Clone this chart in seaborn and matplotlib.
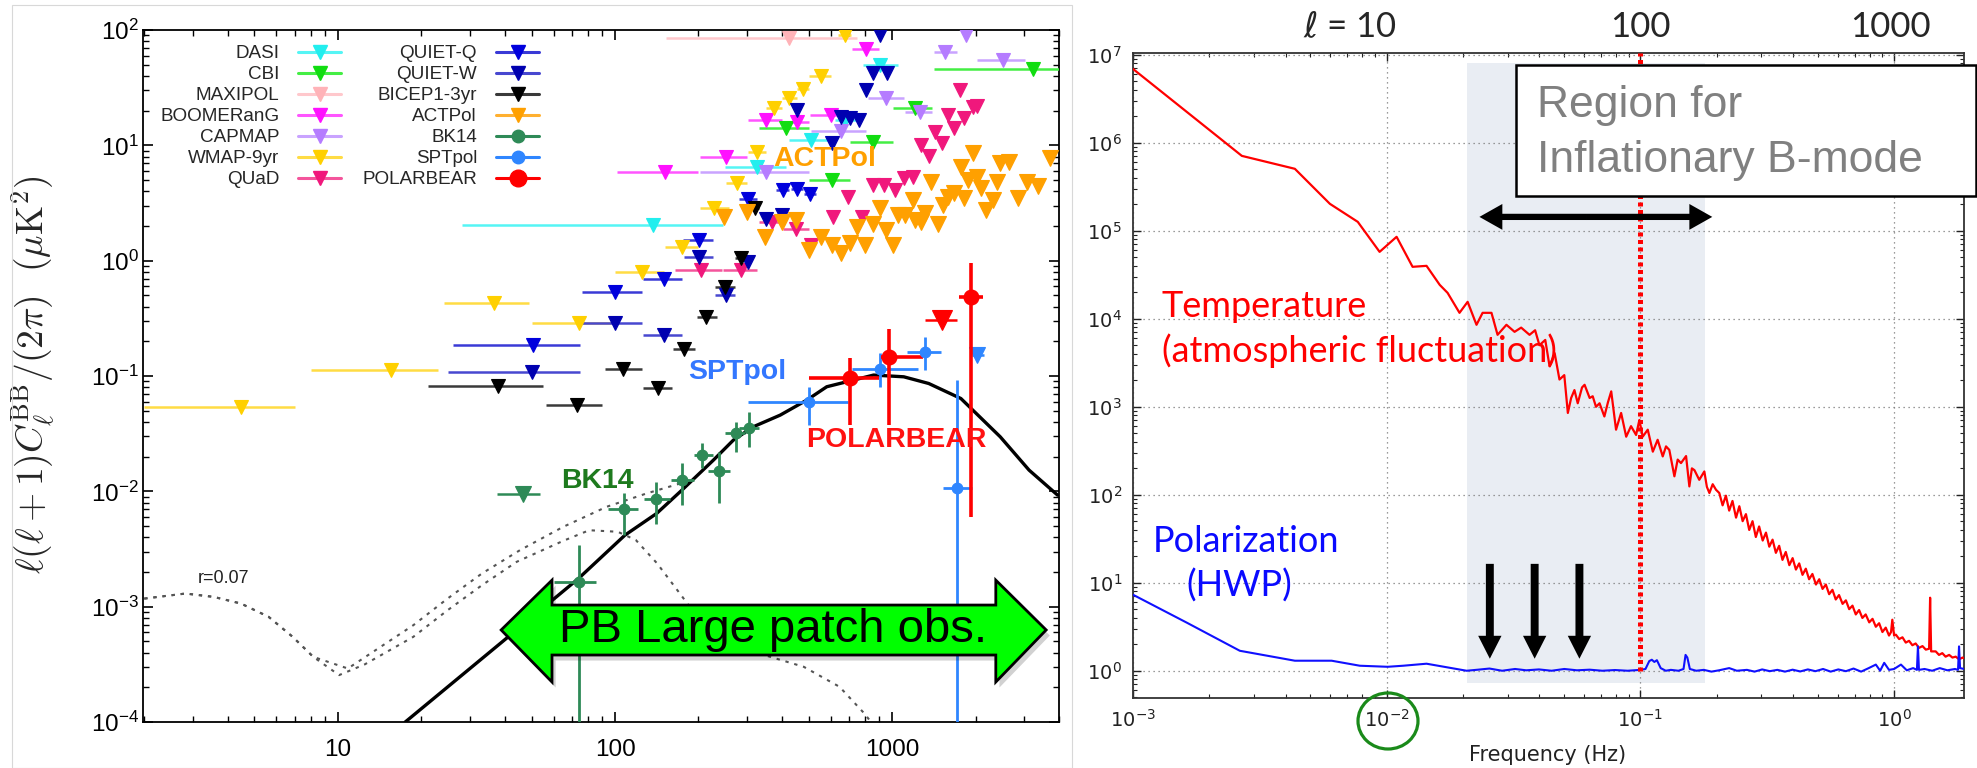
import numpy as np
import matplotlib
matplotlib.use("Agg")
import matplotlib.pyplot as plt
import matplotlib.transforms as mtransforms
from matplotlib.lines import Line2D
from matplotlib.patches import Polygon, Rectangle, Ellipse
from matplotlib.ticker import LogLocator, NullFormatter
import seaborn as sns

sns.set_style("ticks")
plt.rcParams.update({
    "font.family": ["Liberation Sans", "DejaVu Sans"],
    "mathtext.fontset": "dejavusans",
    "mathtext.rm": "Liberation Sans",
    "mathtext.it": "Liberation Sans:italic",
    "mathtext.bf": "Liberation Sans:bold",
    "axes.linewidth": 1.1,
})

# ---------------- B-mode band powers (upper limits: ell, bin edges, value) ----------------
dasi_ell = [137, 326, 509, 675, 907]
dasi_lo = [28, 249, 426, 620, 783]
dasi_hi = [246, 413, 618, 740, 1054]
dasi_val = [2.04, 6.5, 11.1, 16.6, 50]

cbi_ell = [413, 605, 855, 1205, 3236]
cbi_lo = [331, 502, 707, 1007, 1418]
cbi_hi = [502, 707, 1007, 1396, 4000]
cbi_val = [14.0, 5.0, 10.7, 20.9, 46]

maxipol_ell = [424]
maxipol_lo = [153]
maxipol_hi = [748]
maxipol_val = [85]

boomerang_ell = [151, 251, 351, 452, 600, 802]
boomerang_lo = [102, 203, 303, 402, 506, 716]
boomerang_hi = [200, 299, 402, 502, 666, 895]
boomerang_val = [5.9, 8.0, 16.6, 16.0, 18.3, 68]

capmap_ell = [351, 655, 950, 1259, 1549, 2512, 1853]
capmap_lo = [203, 509, 819, 1117, 1419, 2023, 1853]
capmap_hi = [502, 807, 1102, 1396, 1718, 3020, 1853]
capmap_val = [5.9, 13.3, 25.5, 19.6, 65, 55, 90]

wmap_ell = [4.47, 15.5, 36.6, 74, 125, 175, 227, 275, 324, 376, 426, 477, 552, 675]
wmap_lo = [2.0, 8.0, 24.2, 50, 100, 151, 203, 252, 302, 352, 402, 452, 502, 640]
wmap_hi = [7.0, 22.9, 48.8, 96.6, 150, 200, 257, 300, 350, 402, 452, 502, 600, 710]
wmap_val = [0.054, 0.112, 0.426, 0.286, 0.80, 1.32, 2.84, 4.68, 8.8, 20.9, 25.5, 31, 40, 90]

quad_ell = [204, 284, 367, 449, 509, 612, 695, 778, 855, 935, 1023, 1101, 1187, 1271,
            1356, 1430, 1517, 1596, 1668, 1762, 1824, 1950, 2024]
quad_lo = [165, 246, 331, 404, 509, 612, 695, 778, 855, 935, 1023, 1101, 1187, 1271,
           1356, 1430, 1517, 1596, 1668, 1762, 1824, 1950, 2024]
quad_hi = [243, 324, 404, 502, 509, 612, 695, 778, 855, 935, 1023, 1101, 1187, 1271,
           1356, 1430, 1517, 1596, 1668, 1762, 1824, 1950, 2024]
quad_val = [0.83, 0.83, 2.17, 1.9, 1.36, 2.4, 3.58, 2.4, 4.5, 4.5, 4.1, 5.2, 5.3, 10.0,
            8.1, 13.1, 10.4, 18.3, 14.0, 30.0, 17.1, 21.6, 22.0]

quietq_ell = [50.5, 100, 150, 201, 303, 404, 452, 506]
quietq_lo = [26, 76, 126, 176, 280, 380, 430, 480]
quietq_hi = [75, 125, 175, 225, 326, 426, 476, 530]
quietq_val = [0.185, 0.538, 0.70, 1.51, 3.4, 4.1, 4.2, 3.8]

quietw_ell = [50, 100, 150, 201, 251, 303, 351, 402, 452, 605, 655, 706, 760, 807, 855, 907, 955]
quietw_lo = [25, 76, 126, 177, 230, 303, 351, 402, 452, 605, 655, 706, 760, 807, 855, 907, 955]
quietw_hi = [75, 125, 175, 226, 271, 303, 351, 402, 452, 605, 655, 706, 760, 807, 855, 907, 955]
quietw_val = [0.109, 0.286, 0.226, 1.08, 0.50, 0.98, 2.32, 2.48, 20.2, 10.4, 17.7, 17.1, 16.6,
              30, 42, 90, 42]

bicep_ell = [37.9, 73, 107, 143, 177, 213, 249, 284, 321]
bicep_lo = [21.2, 56.4, 92, 126.5, 162.5, 197, 230, 270, 310]
bicep_hi = [55.1, 89.5, 125, 160, 194.5, 233, 271, 300, 332]
bicep_val = [0.082, 0.056, 0.116, 0.078, 0.173, 0.327, 0.586, 1.05, 2.84]

actpol_ell = [248, 299, 348, 402, 449, 502, 553, 609, 655, 706, 748, 799, 855, 907, 950,
              1007, 1054, 1117, 1187, 1205, 1271, 1316, 1377, 1459, 1527, 1596, 1668, 1770,
              1824, 1879, 1963, 2024, 2084, 2182, 2312, 2383, 2455, 2644, 2850, 3069, 3352, 3722]
actpol_val = [2.4, 2.66, 1.59, 2.17, 2.25, 1.24, 1.59, 1.36, 1.16, 1.41, 1.97, 1.36, 2.1, 2.84,
              1.84, 1.36, 2.48, 2.48, 3.35, 2.25, 2.17, 2.57, 4.83, 2.1, 3.03, 3.58, 3.83, 6.5,
              3.47, 5.0, 8.5, 5.35, 4.24, 2.75, 3.35, 4.83, 7.0, 7.2, 3.47, 4.83, 4.4, 7.7]

bk14_lim_ell = [46.7]
bk14_lim_lo = [37.4]
bk14_lim_hi = [53.6]
bk14_lim_val = [0.0095]

sptpol_lim_ell = [2026]
sptpol_lim_lo = [1936]
sptpol_lim_hi = [2140]
sptpol_lim_val = [0.152]

polarbear_lim_ell = [1517]
polarbear_lim_lo = [1316]
polarbear_lim_hi = [1718]
polarbear_lim_val = [0.305]

# ---------------- detections (ell, bin edges, value, 1-sigma range) ----------------
bk14_ell = [74, 108, 141, 175, 206, 238, 274, 305]
bk14_lo = [60, 94.6, 127, 159, 192, 217, 250, 280]
bk14_hi = [85.7, 121, 158, 192, 226, 260, 295, 330]
bk14_val = [0.00164, 0.00697, 0.0085, 0.0125, 0.0206, 0.0151, 0.0318, 0.0356]
bk14_val_lo = [1e-6, 0.00417, 0.00526, 0.00759, 0.0158, 0.00785, 0.022, 0.0243]
bk14_val_hi = [0.0034, 0.0097, 0.0121, 0.01746, 0.026, 0.022, 0.040, 0.049]

sptpol_ell = [503, 907, 1309, 1718]
sptpol_lo = [303, 716, 1135, 1528]
sptpol_hi = [695, 1242, 1503, 1936]
sptpol_val = [0.0598, 0.116, 0.162, 0.0106]
sptpol_val_lo = [0.0375, 0.0805, 0.112, 1e-6]
sptpol_val_hi = [0.0807, 0.157, 0.219, 0.092]

polarbear_ell = [706, 975, 1927]
polarbear_lo = [501, 908, 1746]
polarbear_hi = [898, 1297, 2120]
polarbear_val = [0.0953, 0.147, 0.486]
polarbear_val_lo = [0.0375, 0.0375, 0.006]
polarbear_val_hi = [0.142, 0.258, 0.95]

# ---------------- model spectra ----------------
lens_ell = [17.5, 38.5, 73.8, 108.6, 141.3, 174.2, 226.5, 267.3, 315.5, 394.5, 492.0, 580.8,
            685.5, 857.0, 1101.5, 1355.2, 1770.1, 2454.7, 3119.0, 3953.6]
lens_dl = [1.0e-4, 4.79e-4, 1.754e-3, 4.17e-3, 6.43e-3, 1.023e-2, 1.866e-2, 2.78e-2, 3.63e-2,
           4.58e-2, 6.18e-2, 8.07e-2, 8.91e-2, 1.019e-1, 9.84e-2, 8.61e-2, 6.38e-2, 2.97e-2,
           1.528e-2, 9.27e-3]

tensor_ell = [2.0, 2.82, 3.56, 4.47, 5.62, 6.87, 8.15, 10.1, 12.5, 18.7, 24.9, 33.1, 44.2, 65.0,
              80.7, 102.3, 118.9, 141.9, 175.0, 228.6, 479.7, 645.7, 794.3, 871.0]
tensor_dl = [1.175e-3, 1.30e-3, 1.216e-3, 1.064e-3, 8.17e-4, 5.47e-4, 3.67e-4, 2.55e-4, 3.16e-4,
             5.47e-4, 9.33e-4, 1.535e-3, 2.45e-3, 3.72e-3, 4.60e-3, 4.46e-3, 3.78e-3, 2.37e-3,
             1.216e-3, 5.12e-4, 3.01e-4, 2.02e-4, 1.183e-4, 8.9e-5]

total_ell = [2.0, 2.82, 3.56, 4.47, 5.62, 6.87, 8.15, 10.86, 18.7, 24.9, 33.1, 45.4, 65.0, 93.3,
             130.0, 171.8]
total_dl = [1.175e-3, 1.30e-3, 1.216e-3, 1.064e-3, 8.17e-4, 5.47e-4, 3.67e-4, 2.91e-4, 6.90e-4,
            1.178e-3, 1.941e-3, 3.09e-3, 4.92e-3, 7.35e-3, 9.59e-3, 1.17e-2]

# ---------------- detector noise spectra (log10 of frequency [Hz] and power) ----------------
temp_log_freq = [-3.000, -2.571, -2.362, -2.224, -2.114, -2.028, -1.961, -1.898, -1.843, -1.791,
                 -1.760, -1.713, -1.681, -1.646, -1.622, -1.587, -1.563, -1.528, -1.496, -1.470,
                 -1.437, -1.415, -1.398, -1.375, -1.358, -1.338, -1.319, -1.300, -1.286, -1.273,
                 -1.260, -1.247, -1.230, -1.220, -1.200, -1.188, -1.175, -1.161, -1.142, -1.128,
                 -1.115, -1.096, -1.076, -1.056, -1.037, -1.017, -1.004, -0.991, -0.971, -0.951,
                 -0.932, -0.912, -0.899, -0.886, -0.866, -0.853, -0.840, -0.820, -0.807, -0.797,
                 -0.787, -0.768, -0.748, -0.738, -0.728, -0.715, -0.702, -0.689, -0.676, -0.663,
                 -0.650, -0.637, -0.623, -0.610, -0.597, -0.584, -0.571, -0.558, -0.545, -0.532,
                 -0.518, -0.505, -0.492, -0.479, -0.466, -0.453, -0.440, -0.427, -0.413, -0.400,
                 -0.387, -0.374, -0.361, -0.348, -0.335, -0.322, -0.308, -0.295, -0.282, -0.269,
                 -0.256, -0.243, -0.230, -0.217, -0.203, -0.190, -0.177, -0.164, -0.151, -0.138,
                 -0.125, -0.112, -0.098, -0.085, -0.072, -0.059, -0.046, -0.033, -0.020, -0.012,
                 -0.007, 0.000, 0.007, 0.020, 0.033, 0.046, 0.059, 0.072, 0.085, 0.098,
                 0.112, 0.125, 0.138, 0.142, 0.146, 0.164, 0.177, 0.190, 0.203, 0.217,
                 0.230, 0.243, 0.256, 0.270, 0.276]
temp_log_power = [6.84, 5.852, 5.705, 5.307, 5.102, 4.761, 4.932, 4.591, 4.602, 4.386,
                  4.295, 4.068, 4.193, 3.932, 4.068, 4.068, 3.818, 3.932, 3.852, 3.90,
                  3.818, 3.87, 3.70, 3.76, 3.46, 3.61, 3.31, 3.36, 2.93, 3.10,
                  3.19, 3.04, 3.22, 3.25, 3.10, 3.12, 3.00, 3.04, 2.89, 3.05,
                  3.175, 2.74, 2.93, 2.66, 2.78, 2.68, 2.85, 2.66, 2.74, 2.49,
                  2.625, 2.436, 2.55, 2.51, 2.21, 2.40, 2.36, 2.44, 2.095, 2.30,
                  2.28, 2.17, 2.265, 2.09, 2.02, 2.12, 2.057, 2.02, 1.88, 1.99,
                  1.82, 1.93, 1.74, 1.87, 1.70, 1.78, 1.60, 1.70, 1.52, 1.64,
                  1.48, 1.57, 1.41, 1.49, 1.34, 1.42, 1.26, 1.35, 1.20, 1.28,
                  1.15, 1.22, 1.09, 1.16, 1.04, 1.10, 0.98, 1.04, 0.93, 0.98,
                  0.87, 0.92, 0.81, 0.86, 0.76, 0.80, 0.70, 0.74, 0.64, 0.69,
                  0.60, 0.64, 0.55, 0.59, 0.50, 0.54, 0.44, 0.49, 0.40, 0.44,
                  0.58, 0.40, 0.41, 0.36, 0.38, 0.32, 0.34, 0.29, 0.31, 0.26,
                  0.28, 0.24, 0.25, 0.83, 0.22, 0.22, 0.18, 0.20, 0.16, 0.18,
                  0.15, 0.16, 0.13, 0.15, 0.14]

pol_log_freq = [-3.000, -2.787, -2.579, -2.362, -2.217, -2.106, -1.996, -1.935, -1.843, -1.764,
                -1.685, -1.640, -1.595, -1.545, -1.494, -1.450, -1.400, -1.350, -1.300, -1.250,
                -1.200, -1.150, -1.100, -1.050, -1.000, -0.980, -0.965, -0.955, -0.945, -0.935,
                -0.920, -0.900, -0.880, -0.850, -0.830, -0.822, -0.815, -0.805, -0.780, -0.750,
                -0.720, -0.690, -0.650, -0.620, -0.580, -0.550, -0.520, -0.490, -0.460, -0.430,
                -0.400, -0.370, -0.340, -0.310, -0.280, -0.250, -0.220, -0.190, -0.160, -0.130,
                -0.100, -0.072, -0.055, -0.039, -0.020, 0.000, 0.027, 0.050, 0.075, 0.090,
                0.094, 0.098, 0.120, 0.150, 0.180, 0.210, 0.240, 0.252, 0.256, 0.260, 0.276]
pol_log_power = [0.864, 0.545, 0.227, 0.114, 0.114, 0.057, 0.045, 0.057, 0.080, 0.040,
                 0.000, 0.012, 0.025, 0.000, 0.020, 0.005, 0.015, 0.000, 0.020, 0.005,
                 0.012, 0.000, 0.008, 0.000, 0.010, 0.020, 0.110, 0.125, 0.100, 0.120,
                 0.030, 0.000, 0.010, 0.000, 0.020, 0.180, 0.150, 0.020, 0.000, 0.010,
                 -0.010, 0.005, 0.030, 0.000, 0.010, -0.010, 0.015, -0.005, 0.010, -0.010,
                 0.012, -0.008, 0.015, -0.005, 0.020, -0.010, 0.015, -0.005, 0.025, -0.010,
                 0.030, 0.070, 0.000, 0.090, 0.010, 0.020, 0.070, 0.005, 0.030, 0.010,
                 0.277, 0.010, 0.020, 0.000, 0.030, 0.005, 0.020, 0.010, 0.277, 0.030, 0.020]

# band of frequencies sensitive to the inflationary signal, and the modulation lines
band_freq = [0.0207, 0.18]
band_power = [0.73, 8.1e6]
modulation_freqs = [0.0255, 0.0383, 0.0575]
top_ell_labels = ["$\\ell$ = 10", "100", "1000"]
top_ell_freqs = [0.011, 0.1, 0.97]

W, H = 1977, 768
fig = plt.figure(figsize=(W / 100, H / 100), dpi=100)
fig.patch.set_facecolor("white")

axL = fig.add_axes([143 / W, 1 - 722 / H, 916 / W, 692 / H])
axR = fig.add_axes([1133 / W, 1 - 698 / H, 831 / W, 645 / H])

# ======================= left panel =======================
axL.set_xscale("log")
axL.set_yscale("log")
axL.set_xlim(1.98, 4000)
axL.set_ylim(1e-4, 1e2)

sns.lineplot(x=tensor_ell, y=tensor_dl, ax=axL, color="#555555", lw=1.5, ls=(0, (1.6, 2.8)),
             estimator=None, sort=False, legend=False, zorder=2)
sns.lineplot(x=total_ell, y=total_dl, ax=axL, color="#555555", lw=1.5, ls=(0, (1.6, 2.8)),
             estimator=None, sort=False, legend=False, zorder=2)
sns.lineplot(x=lens_ell, y=lens_dl, ax=axL, color="black", lw=2.4,
             estimator=None, sort=False, legend=False, zorder=3)


def plot_limits(ax, ell, lo, hi, val, color, bar_color, ms=10, z=4):
    ell = np.asarray(ell, float)
    xerr = np.vstack([ell - np.asarray(lo, float), np.asarray(hi, float) - ell])
    ax.errorbar(ell, val, xerr=xerr, fmt="v", ms=ms, mfc=color, mec=color, mew=0.8,
                ecolor=bar_color, elinewidth=1.8, capsize=0, zorder=z)


def plot_detections(ax, ell, lo, hi, val, vlo, vhi, color, ms, lw, z=5):
    ell = np.asarray(ell, float)
    val = np.asarray(val, float)
    xerr = np.vstack([ell - np.asarray(lo, float), np.asarray(hi, float) - ell])
    yerr = np.vstack([val - np.asarray(vlo, float), np.asarray(vhi, float) - val])
    ax.errorbar(ell, val, xerr=xerr, yerr=yerr, fmt="o", ms=ms, mfc=color, mec=color,
                ecolor=color, elinewidth=lw, capsize=0, zorder=z)


C = {
    "DASI": ("#22eeee", "#55f5f5"),
    "CBI": ("#11dd11", "#44ee44"),
    "MAXIPOL": ("#ffb3b8", "#ffc8cc"),
    "BOOMERanG": ("#ff11ff", "#ff55ff"),
    "CAPMAP": ("#b57cff", "#c9a3ff"),
    "WMAP-9yr": ("#ffd000", "#ffdc44"),
    "QUaD": ("#f0187c", "#f4559c"),
    "QUIET-Q": ("#0000dd", "#3a3ad6"),
    "QUIET-W": ("#0000b0", "#4848d0"),
    "BICEP1-3yr": ("#000000", "#3a3a3a"),
    "ACTPol": ("#ffa000", "#ffb030"),
    "BK14": ("#2e8a57", "#2e8a57"),
    "SPTpol": ("#2f86ff", "#2f86ff"),
    "POLARBEAR": ("#ff0000", "#ff0000"),
}

plot_limits(axL, maxipol_ell, maxipol_lo, maxipol_hi, maxipol_val, *C["MAXIPOL"])
plot_limits(axL, dasi_ell, dasi_lo, dasi_hi, dasi_val, *C["DASI"])
plot_limits(axL, cbi_ell, cbi_lo, cbi_hi, cbi_val, *C["CBI"])
plot_limits(axL, boomerang_ell, boomerang_lo, boomerang_hi, boomerang_val, *C["BOOMERanG"])
plot_limits(axL, capmap_ell, capmap_lo, capmap_hi, capmap_val, *C["CAPMAP"])
plot_limits(axL, wmap_ell, wmap_lo, wmap_hi, wmap_val, *C["WMAP-9yr"])
plot_limits(axL, quad_ell, quad_lo, quad_hi, quad_val, *C["QUaD"])
plot_limits(axL, quietw_ell, quietw_lo, quietw_hi, quietw_val, *C["QUIET-W"])
plot_limits(axL, quietq_ell, quietq_lo, quietq_hi, quietq_val, *C["QUIET-Q"])
plot_limits(axL, bicep_ell, bicep_lo, bicep_hi, bicep_val, *C["BICEP1-3yr"])
plot_limits(axL, actpol_ell, actpol_ell, actpol_ell, actpol_val, *C["ACTPol"], ms=12)
plot_limits(axL, bk14_lim_ell, bk14_lim_lo, bk14_lim_hi, bk14_lim_val, *C["BK14"], ms=12)
plot_limits(axL, sptpol_lim_ell, sptpol_lim_lo, sptpol_lim_hi, sptpol_lim_val, *C["SPTpol"], ms=12)
plot_limits(axL, polarbear_lim_ell, polarbear_lim_lo, polarbear_lim_hi, polarbear_lim_val,
            *C["POLARBEAR"], ms=15)

plot_detections(axL, bk14_ell, bk14_lo, bk14_hi, bk14_val, bk14_val_lo, bk14_val_hi,
                C["BK14"][0], ms=7.5, lw=2.0)
plot_detections(axL, sptpol_ell, sptpol_lo, sptpol_hi, sptpol_val, sptpol_val_lo, sptpol_val_hi,
                C["SPTpol"][0], ms=7.5, lw=2.0)
plot_detections(axL, polarbear_ell, polarbear_lo, polarbear_hi, polarbear_val, polarbear_val_lo,
                polarbear_val_hi, C["POLARBEAR"][0], ms=10.5, lw=2.6)

# experiment labels
lab = dict(fontsize=20.5, fontweight="bold", ha="center", va="center", zorder=6)
axL.text(569, 7.6, "ACTPol", color="#ffa000", **lab)
axL.text(275, 0.108, "SPTpol", color="#3377ff", **lab)
axL.text(1033, 0.0278, "POLARBEAR", color="#ff1111", **lab)
axL.text(86, 0.0123, "BK14", color="#1e7a1e", **lab)
axL.text(3.87, 0.00177, "r=0.07", fontsize=13, ha="center", va="center", color="#222222")

# legend
order = ["DASI", "CBI", "MAXIPOL", "BOOMERanG", "CAPMAP", "WMAP-9yr", "QUaD",
         "QUIET-Q", "QUIET-W", "BICEP1-3yr", "ACTPol", "BK14", "SPTpol", "POLARBEAR"]
handles = []
for name in order:
    mk, msz = "v", 10
    if name in ("BK14", "SPTpol"):
        mk, msz = "o", 9
    if name == "POLARBEAR":
        mk, msz = "o", 12
    handles.append(Line2D([], [], color=C[name][1], lw=2.2, marker=mk, ms=msz,
                          mfc=C[name][0], mec=C[name][0]))
axL.legend(handles, order, ncol=2, loc="upper left", bbox_to_anchor=(0.0186, 0.978),
           frameon=False, markerfirst=False, fontsize=13.6, handlelength=2.3,
           handletextpad=1.0, columnspacing=1.1, labelspacing=0.2, borderaxespad=0,
           borderpad=0)

# axis styling
axL.set_xticks([10, 100, 1000])
axL.set_xticklabels(["10", "100", "1000"])
axL.set_yticks([1e-4, 1e-3, 1e-2, 1e-1, 1e0, 1e1, 1e2])
axL.set_yticklabels([r"$10^{-4}$", r"$10^{-3}$", r"$10^{-2}$", r"$10^{-1}$", r"$10^{0}$",
                     r"$10^{1}$", r"$10^{2}$"], math_fontfamily="custom")
axL.xaxis.set_minor_locator(LogLocator(base=10, subs=np.arange(2, 10), numticks=30))
axL.yaxis.set_minor_locator(LogLocator(base=10, subs=np.arange(2, 10), numticks=30))
axL.xaxis.set_minor_formatter(NullFormatter())
axL.yaxis.set_minor_formatter(NullFormatter())
axL.tick_params(which="both", direction="in", top=True, right=True, colors="black",
                labelsize=17.5)
axL.tick_params(which="major", length=7, width=1.2)
axL.tick_params(which="minor", length=4, width=1.0)
axL.tick_params(axis="x", pad=12)
axL.tick_params(axis="y", pad=3)
for sp in axL.spines.values():
    sp.set_color("black")
    sp.set_linewidth(1.3)
axL.set_ylabel(r"$\ell(\ell+1)C_\ell^{\rm BB}/(2\pi)\ \ (\mu{\rm K}^2)$", fontsize=27,
               math_fontfamily="cm")
axL.yaxis.set_label_coords(-0.094, 0.5014)

# green double arrow for the survey multipole range
arrow_xy = [(0.391, 0.133), (0.4465, 0.205), (0.4465, 0.169), (0.931, 0.169), (0.931, 0.205),
            (0.986, 0.133), (0.931, 0.0578), (0.931, 0.0968), (0.4465, 0.0968), (0.4465, 0.0578)]
shadow = Polygon([(x + 0.004, y - 0.008) for x, y in arrow_xy], closed=True,
                 transform=axL.transAxes, facecolor="#000000", alpha=0.18, lw=0, zorder=7)
axL.add_patch(shadow)
axL.add_patch(Polygon(arrow_xy, closed=True, transform=axL.transAxes, facecolor="#00ff00",
                      edgecolor="black", lw=2.0, zorder=8, joinstyle="miter"))
axL.text(0.688, 0.133, "PB Large patch obs.", transform=axL.transAxes, fontsize=34,
         ha="center", va="center", color="black", zorder=9)

# ======================= right panel =======================
axR.set_xscale("log")
axR.set_yscale("log")
axR.set_xlim(1e-3, 1.886)
axR.set_ylim(0.49, 1.05e7)

axR.fill_between(band_freq, band_power[0], band_power[1], color="#e9edf3", lw=0, zorder=0.2)
axR.grid(True, which="major", ls=(0, (1, 3)), color="#7a7a7a", lw=0.9, zorder=0.5)

sns.lineplot(x=np.power(10.0, temp_log_freq), y=np.power(10.0, temp_log_power), ax=axR,
             color="#ff0000", lw=1.6, estimator=None, sort=False, legend=False, zorder=3)
sns.lineplot(x=np.power(10.0, pol_log_freq), y=np.power(10.0, pol_log_power), ax=axR,
             color="#1010ff", lw=1.5, estimator=None, sort=False, legend=False, zorder=3)

axR.plot([0.1, 0.1], [1.0, 1.05e7], color="#ff0000", lw=3.6, ls=(0, (0.8, 0.7)), zorder=4)

for f in modulation_freqs:
    axR.annotate("", xy=(f, 1.37), xytext=(f, 16.4),
                 arrowprops=dict(arrowstyle="simple,head_length=0.55,head_width=0.56,tail_width=0.19",
                                 mutation_scale=30, fc="black", ec="none", lw=0,
                                 shrinkA=0, shrinkB=0), zorder=6)

mid_f = np.sqrt(band_freq[0] * band_freq[1])
for end_f in (0.0232, 0.192):
    axR.annotate("", xy=(end_f, 1.44e5), xytext=(mid_f, 1.44e5),
                 arrowprops=dict(arrowstyle="simple,head_length=0.55,head_width=0.62,tail_width=0.15",
                                 mutation_scale=30, fc="black", ec="none", lw=0,
                                 shrinkA=0, shrinkB=0), zorder=6)

txt = dict(fontfamily="Lato", fontsize=26, va="baseline", ha="left", zorder=7)
axR.text(1.3e-3, 1.05e4, "Temperature", color="#ff0000", **txt)
axR.text(1.3e-3, 3.2e3, "(atmospheric fluctuation)", color="#ff0000", **txt)
axR.text(1.2e-3, 22.5, "Polarization", color="#0a0aff", **txt)
axR.text(1.63e-3, 6.9, "(HWP)", color="#0a0aff", **txt)

top_tr = mtransforms.blended_transform_factory(axR.transData, axR.transAxes)
for lbl, f in zip(top_ell_labels, top_ell_freqs):
    axR.text(f, 1.040, lbl, transform=top_tr, fontfamily="Lato", fontsize=25,
             ha="right" if lbl.startswith("$") else "center", va="center", clip_on=False)

axR.set_xticks([1e-3, 1e-2, 1e-1, 1e0])
axR.set_yticks([1e0, 1e1, 1e2, 1e3, 1e4, 1e5, 1e6, 1e7])
axR.tick_params(which="both", direction="in", top=True, right=True, labelsize=14,
                colors="#222222")
axR.tick_params(which="major", length=5.5, width=1.0)
axR.tick_params(which="minor", length=2.8, width=0.8)
axR.tick_params(axis="x", pad=8)
axR.tick_params(axis="y", pad=8)
for lab_ in axR.get_xticklabels() + axR.get_yticklabels():
    lab_.set_fontfamily("DejaVu Sans")
for sp in axR.spines.values():
    sp.set_color("#333333")
    sp.set_linewidth(1.3)
axR.set_xlabel("Frequency (Hz)", fontsize=15, fontfamily="DejaVu Sans", color="#222222")
axR.xaxis.set_label_coords(0.4994, -0.0729)

# highlighted tick label
fig.add_artist(Ellipse((1388 / W, 1 - 721 / H), 60 / W, 56 / H, transform=fig.transFigure,
                       fill=False, edgecolor="#1a8a1a", lw=2.3, zorder=10))

# caption box
fig.add_artist(Rectangle((1516 / W, 1 - 196 / H), 460 / W, 131 / H, transform=fig.transFigure,
                         facecolor="white", edgecolor="black", lw=1.8, zorder=10))
fig.text(1537 / W, 1 - 117 / H, "Region for", fontsize=32, color="#808080", va="baseline",
         ha="left", zorder=11)
fig.text(1537 / W, 1 - 172 / H, "Inflationary B-mode", fontsize=32, color="#808080",
         va="baseline", ha="left", zorder=11)

# thin frame around the left figure
fig.add_artist(Rectangle((12 / W, 0), 1060 / W, 1 - 5 / H, transform=fig.transFigure,
                         fill=False, edgecolor="#d8d8d8", lw=0.8, zorder=1))

fig.savefig("out.png", dpi=100)
